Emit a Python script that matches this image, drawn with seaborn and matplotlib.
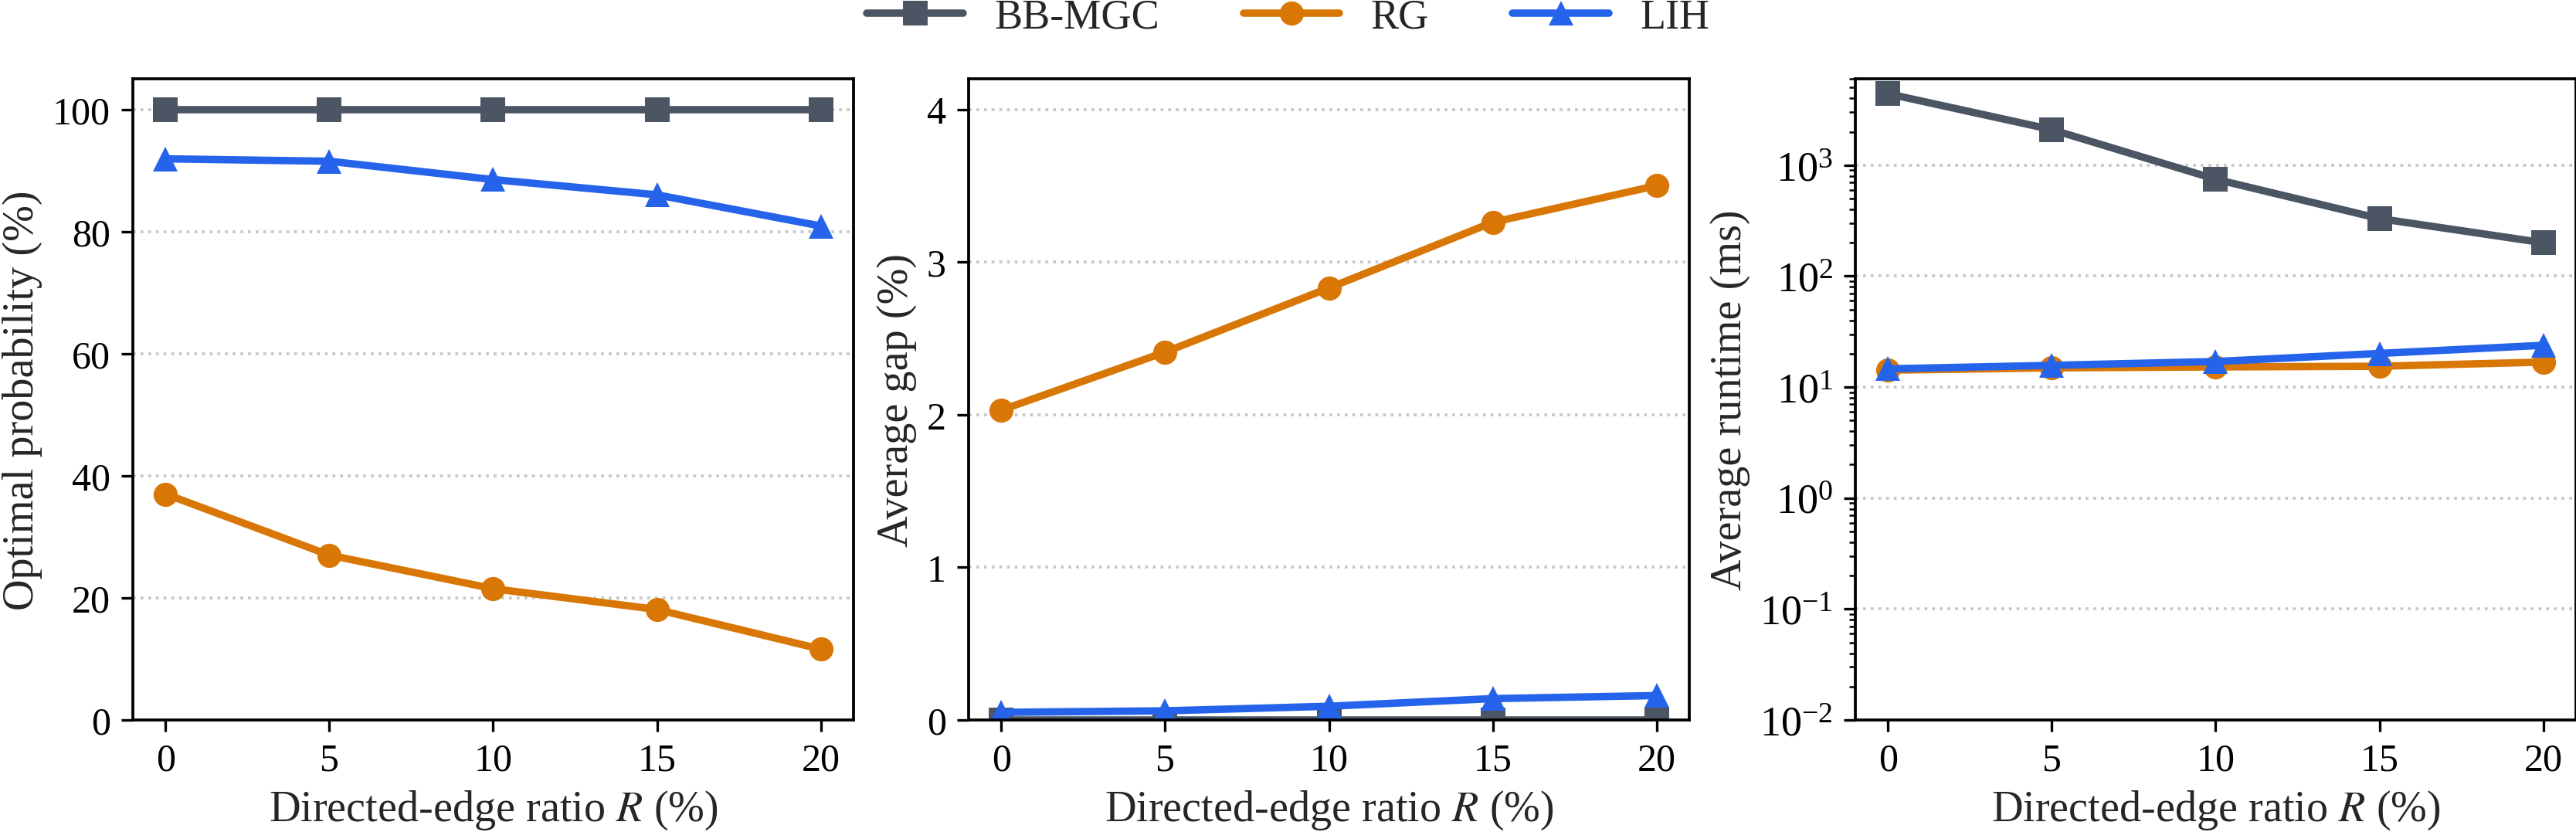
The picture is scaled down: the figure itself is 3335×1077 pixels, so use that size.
import pandas as pd
import matplotlib
matplotlib.use("Agg")
import matplotlib.pyplot as plt
import seaborn as sns

# datos
ratios = [0, 5, 10, 15, 20]
metodos = ["BB-MGC", "RG", "LIH"]

prob_bb = [100, 100, 100, 100, 100]
prob_rg = [37.0, 27.0, 21.5, 18.1, 11.6]
prob_lih = [91.9, 91.5, 88.5, 86.0, 80.9]

gap_bb = [0, 0, 0, 0, 0]
gap_rg = [2.03, 2.41, 2.83, 3.26, 3.50]
gap_lih = [0.05, 0.06, 0.09, 0.14, 0.16]

tiempo_bb = [4400, 2090, 747, 330, 200]
tiempo_rg = [14.2, 14.9, 15.2, 15.4, 16.8]
tiempo_lih = [14.6, 15.7, 17.0, 20.1, 23.8]

colores = {"BB-MGC": "#4b5563", "RG": "#d97706", "LIH": "#2563eb"}
marcadores = {"BB-MGC": "s", "RG": "o", "LIH": "^"}


def armar_df(bb, rg, lih):
    filas = []
    for nombre, valores in zip(metodos, [bb, rg, lih]):
        for r, v in zip(ratios, valores):
            filas.append({"R": r, "valor": v, "metodo": nombre})
    return pd.DataFrame(filas)


sns.set_style("ticks")
plt.rcParams["font.family"] = ["Liberation Serif", "DejaVu Serif"]
plt.rcParams["mathtext.fontset"] = "stix"
plt.rcParams["axes.linewidth"] = 0.9
plt.rcParams["xtick.major.width"] = 0.8
plt.rcParams["ytick.major.width"] = 0.8
plt.rcParams["ytick.minor.width"] = 0.6
plt.rcParams["xtick.major.size"] = 3.5
plt.rcParams["ytick.major.size"] = 3.5
plt.rcParams["ytick.minor.size"] = 2.0
plt.rcParams["xtick.labelsize"] = 12
plt.rcParams["ytick.labelsize"] = 12
plt.rcParams["axes.labelsize"] = 13.5
plt.rcParams["axes.edgecolor"] = "black"
plt.rcParams["xtick.color"] = "black"
plt.rcParams["ytick.color"] = "black"

fig = plt.figure(figsize=(11.12, 3.5933), dpi=300)
W, H = 3336, 1078
izquierdas = [172, 1254, 2402]
ancho = 933 / W
abajo = (H - 933) / H
alto = (933 - 103) / H
axes = [fig.add_axes([x / W, abajo, ancho, alto]) for x in izquierdas]

paneles = [
    (armar_df(prob_bb, prob_rg, prob_lih), "Optimal probability (%)"),
    (armar_df(gap_bb, gap_rg, gap_lih), "Average gap (%)"),
    (armar_df(tiempo_bb, tiempo_rg, tiempo_lih), "Average runtime (ms)"),
]

for i, (ax, (df, etiqueta)) in enumerate(zip(axes, paneles)):
    sns.lineplot(
        data=df, x="R", y="valor", hue="metodo", style="metodo",
        hue_order=metodos, style_order=metodos,
        palette=colores, markers=marcadores, dashes=False,
        linewidth=2.3, markersize=7.5, markeredgewidth=0,
        ax=ax, legend=(i == 0),
    )
    ax.set_xlim(-1, 21)
    ax.set_xticks(ratios)
    ax.set_xlabel("Directed-edge ratio $R$ (%)", labelpad=3)
    ax.set_ylabel(etiqueta, labelpad=3)
    ax.yaxis.grid(True, linestyle=":", color="#c8c8c8", linewidth=0.9)
    ax.set_axisbelow(True)
    for s in ax.spines.values():
        s.set_visible(True)

axes[0].set_ylim(0, 105)
axes[0].set_yticks([0, 20, 40, 60, 80, 100])
axes[1].set_ylim(0, 4.2)
axes[1].set_yticks([0, 1, 2, 3, 4])
axes[2].set_yscale("log")
axes[2].set_ylim(1e-2, 6000)
axes[2].tick_params(axis="y", which="major", labelsize=13)

handles, labels = axes[0].get_legend_handles_labels()
axes[0].get_legend().remove()
fig.legend(
    handles, labels, loc="center", bbox_to_anchor=(0.5, 0.978), ncol=3,
    frameon=False, fontsize=13, handlelength=2.3, handletextpad=0.75,
    columnspacing=2.0,
)

fig.savefig("out.png", dpi=300)
plt.close()
